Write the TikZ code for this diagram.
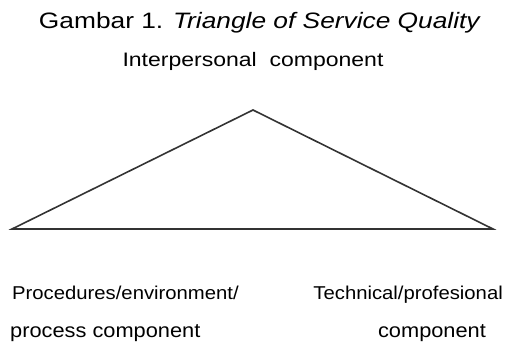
\documentclass[tikz,border=0pt]{standalone}
\usepackage{fontspec}
\setmainfont{Liberation Sans}[FakeStretch=1.09]
\newfontfamily\widefont{Liberation Sans}[FakeStretch=1.18]
\usepackage{xcolor}
\usetikzlibrary{calc}

\definecolor{edgegray}{HTML}{333333}

\begin{document}
\begin{tikzpicture}[x=1pt, y=-1pt,
    label/.style={inner sep=0pt, anchor=base, font=\fontsize{18.6}{21}\selectfont},
    sublabel/.style={label, font=\fontsize{20}{23}\selectfont},
    edge/.style={draw=edgegray, line width=1.6pt, line join=miter}]
  \useasboundingbox (0,0) rectangle (505,343);
  % title and top label
  \node[inner sep=0pt, anchor=base, font=\widefont\fontsize{22.3}{25}\selectfont] (title) at (260,28)
    {Gambar 1. \textit{Triangle of Service Quality}};
  \node[label, font=\widefont\fontsize{19.5}{22}\selectfont] (top) at (253,66) {Interpersonal\ \ component};
  % triangle
  \coordinate (apex) at (253,110);
  \coordinate (left) at (12,229);
  \coordinate (right) at (493,229);
  \draw[edge] (apex) -- (right) -- (left) -- cycle;
  % corner labels
  \node[label, anchor=base west] (proc) at (12,299.5) {Procedures/environment/};
  \node[sublabel, anchor=base west] (procb) at (10,337) {process component};
  \node[label, anchor=base east] (tech) at (503,299.5) {Technical/profesional};
  \node[sublabel] (techb) at (432,337) {component};
\end{tikzpicture}
\end{document}
